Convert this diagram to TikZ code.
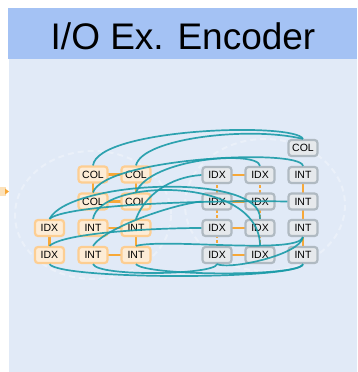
\documentclass[tikz,border=0pt]{standalone}
\usepackage{fontspec}
\setmainfont{Liberation Sans}
\usetikzlibrary{arrows.meta}
\definecolor{TitleBlue}{RGB}{164,194,244}
\definecolor{PanelBlue}{RGB}{225,234,247}
\definecolor{TieOrange}{RGB}{247,168,56}
\definecolor{OrangeFill}{RGB}{253,236,214}
\definecolor{OrangeLine}{RGB}{253,206,146}
\definecolor{GrayFill}{RGB}{230,233,236}
\definecolor{GrayLine}{RGB}{176,186,194}
\definecolor{LinkTeal}{RGB}{26,155,168}

\begin{document}
\begin{tikzpicture}[x=1pt,y=-1pt,
    inbox/.style={draw=OrangeLine,fill=OrangeFill,line width=2.2pt,rounded corners=3pt,
      minimum width=29pt,minimum height=16pt,inner sep=0pt,font=\fontsize{10.5}{10.5}\selectfont},
    outbox/.style={inbox,draw=GrayLine,fill=GrayFill},
    tie/.style={TieOrange,line width=2.5pt},
    dtie/.style={tie,dash pattern=on 3pt off 2pt},
    link/.style={LinkTeal,line width=1.7pt,opacity=.9}]
  \useasboundingbox (0,0) rectangle (358,372);
  \fill[TitleBlue] (8,8) rectangle (357,59);
  \fill[PanelBlue] (9,59) rectangle (357,372);
  \node[font=\fontsize{37}{37}\selectfont] (title) at (183,36) {I/O Ex. Encoder};
  % incoming arrow on the left
  \fill[TieOrange!35] (0,187) rectangle (6,196);
  \fill[TieOrange] (5,188.5) -- (9,191.5) -- (5,194.5) -- cycle;
  % faint rings behind the groups
  \draw[white,opacity=.3,line width=2pt,dash pattern=on 6pt off 4pt] (93,215) ellipse (78 and 64);
  \draw[white,opacity=.3,line width=2pt,dash pattern=on 6pt off 4pt] (265,205) ellipse (80 and 66);

  % input side
  \coordinate (c11) at (93,174.5);  \coordinate (c12) at (136,174.5);
  \coordinate (c21) at (93,201.5);  \coordinate (c22) at (136,201.5);
  \coordinate (x31) at (49.5,228);  \coordinate (i32) at (93,228);  \coordinate (i33) at (136,228);
  \coordinate (x41) at (49.5,255);  \coordinate (i42) at (93,255);  \coordinate (i43) at (136,255);
  \draw[tie] (c11) -- (c12);  \draw[tie] (c21) -- (c22);
  \draw[tie] (c11) -- (c21);  \draw[tie] (c12) -- (c22);
  \draw[tie] (i32) -- (i33);  \draw[tie] (i42) -- (i43);
  \draw[tie] (x31) -- (x41);  \draw[tie] (i33) -- (i43);
  % output side
  \coordinate (gc) at (303,148);
  \coordinate (gx11) at (217,175);    \coordinate (gx12) at (260,175);    \coordinate (gi13) at (303,175);
  \coordinate (gx21) at (217,201.5);  \coordinate (gx22) at (260,201.5);  \coordinate (gi23) at (303,201.5);
  \coordinate (gx31) at (217,228);    \coordinate (gx32) at (260,228);    \coordinate (gi33) at (303,228);
  \coordinate (gx41) at (217,255);    \coordinate (gx42) at (260,255);    \coordinate (gi43) at (303,255);
  \draw[tie] (gx11) -- (gx12);  \draw[tie] (gx21) -- (gx22);
  \draw[tie] (gx31) -- (gx32);  \draw[tie] (gx41) -- (gx42);
  \draw[dtie] (gx11) -- (gx21) -- (gx31) -- (gx41);
  \draw[dtie] (gx12) -- (gx22) -- (gx32) -- (gx42);
  \draw[tie] (gi13) -- (gi23) -- (gi33) -- (gi43);

  \node[inbox] (c11) at (c11) {COL};  \node[inbox] (c12) at (c12) {COL};
  \node[inbox] (c21) at (c21) {COL};  \node[inbox] (c22) at (c22) {COL};
  \node[inbox] (x31) at (x31) {IDX};  \node[inbox] (i32) at (i32) {INT};  \node[inbox] (i33) at (i33) {INT};
  \node[inbox] (x41) at (x41) {IDX};  \node[inbox] (i42) at (i42) {INT};  \node[inbox] (i43) at (i43) {INT};

  \node[outbox] (gc) at (gc) {COL};
  \node[outbox] (gx11) at (gx11) {IDX};  \node[outbox] (gx12) at (gx12) {IDX};  \node[outbox] (gi13) at (gi13) {INT};
  \node[outbox] (gx21) at (gx21) {IDX};  \node[outbox] (gx22) at (gx22) {IDX};  \node[outbox] (gi23) at (gi23) {INT};
  \node[outbox] (gx31) at (gx31) {IDX};  \node[outbox] (gx32) at (gx32) {IDX};  \node[outbox] (gi33) at (gi33) {INT};
  \node[outbox] (gx41) at (gx41) {IDX};  \node[outbox] (gx42) at (gx42) {IDX};  \node[outbox] (gi43) at (gi43) {INT};

  % cross links
  \draw[link] (c11.north) .. controls (98,128) and (295,122) .. (gc.north);
  \draw[link] (c12.north) .. controls (142,138) and (250,126) .. (gc.north);
  \draw[link] (c21.north) .. controls (105,158) and (300,148) .. (gi13.north);
  \draw[link] (c22.north) .. controls (150,158) and (258,150) .. (gx12.north);
  \draw[link] (x31.north) .. controls (70,180) and (262,172) .. (gx32.north);
  \draw[link] (i32.north) .. controls (100,178) and (260,175) .. (gx42.north);
  \draw[link] (x31.north) .. controls (65,205) and (200,200) .. (gi23.west);
  \draw[link] (i33.north) .. controls (145,195) and (170,177) .. (gx11.west);
  \draw[link] (i42.north) .. controls (105,228) and (170,205) .. (gx21.west);
  \draw[link] (x41.north) .. controls (65,232) and (160,228) .. (gx31.west);
  \draw[link] (x41.south) .. controls (60,280) and (300,280) .. (gi43.south);
  \draw[link] (i42.south) .. controls (98,277) and (215,275) .. (gx41.south);
  \draw[link] (i43.south) .. controls (145,276) and (300,277) .. (gi43.south);
  \draw[link] (gi33.south) .. controls (298,255) and (165,238) .. (i43.north);
  \draw[link] (gi33.south) .. controls (300,255) and (230,270) .. (gx41.south);
\end{tikzpicture}
\end{document}
